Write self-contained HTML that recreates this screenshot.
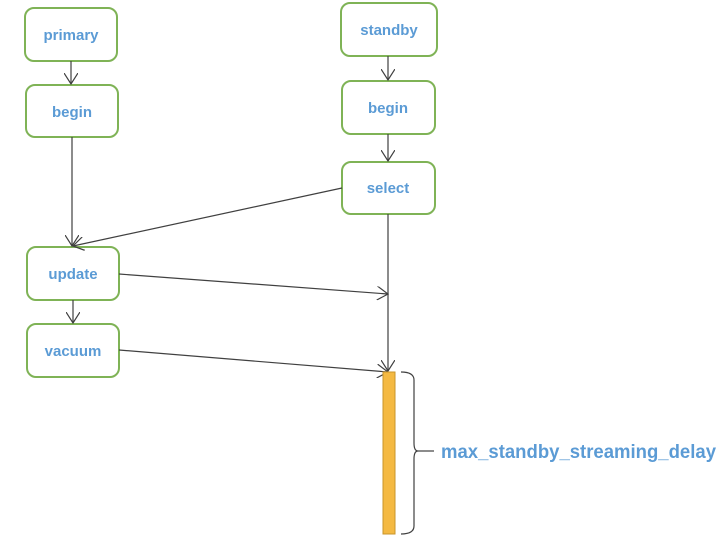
<!DOCTYPE html>
<html><head><meta charset="utf-8"><style>
html,body{margin:0;padding:0;background:#fff;}
svg{display:block;}
text{font-family:"Liberation Sans",sans-serif;fill:#5b9bd5;}
</style></head><body>
<svg width="723" height="545" viewBox="0 0 723 545" xmlns="http://www.w3.org/2000/svg">
<defs>
<marker id="a" markerWidth="12" markerHeight="14" refX="11" refY="7" orient="auto" markerUnits="userSpaceOnUse">
<path d="M0,0 L11,7 L0,14" fill="none" stroke="#404040" stroke-width="1.2"/>
</marker>
</defs>
<g fill="#fff" stroke="#7fb356" stroke-width="2">
<rect x="25" y="8" width="92" height="53" rx="9"/>
<rect x="26" y="85" width="92" height="52" rx="9"/>
<rect x="27" y="247" width="92" height="53" rx="9"/>
<rect x="27" y="324" width="92" height="53" rx="9"/>
<rect x="341" y="3" width="96" height="53" rx="9"/>
<rect x="342" y="81" width="93" height="53" rx="9"/>
<rect x="342" y="162" width="93" height="52" rx="9"/>
</g>
<g stroke="#404040" stroke-width="1.2" fill="none" marker-end="url(#a)">
<line x1="71" y1="61" x2="71" y2="84"/>
<line x1="72" y1="137" x2="72" y2="246"/>
<line x1="342" y1="188" x2="73" y2="246"/>
<line x1="73" y1="300" x2="73" y2="323"/>
<line x1="119" y1="274" x2="388" y2="294"/>
<line x1="119" y1="350" x2="388" y2="372"/>
<line x1="388" y1="56" x2="388" y2="80"/>
<line x1="388" y1="134" x2="388" y2="161"/>
<line x1="388" y1="214" x2="388" y2="371"/>
</g>
<rect x="383" y="372" width="12" height="162" fill="#f4b942" stroke="#c9952b" stroke-width="1"/>
<path d="M401,372 Q414,372 414,380 L414,443 Q414,451 418,451 Q414,451 414,459 L414,526 Q414,534 401,534" fill="none" stroke="#404040" stroke-width="1.2"/>
<line x1="418" y1="451" x2="434" y2="451" stroke="#404040" stroke-width="1.2"/>
<g font-size="15" font-weight="bold" text-anchor="middle">
<text x="71" y="40">primary</text>
<text x="72" y="117">begin</text>
<text x="73" y="279">update</text>
<text x="73" y="356">vacuum</text>
<text x="389" y="35">standby</text>
<text x="388" y="113">begin</text>
<text x="388" y="193">select</text>
</g>
<text x="441" y="458" font-size="19" font-weight="bold" textLength="275" lengthAdjust="spacingAndGlyphs">max_standby_streaming_delay</text>
</svg>
</body></html>
